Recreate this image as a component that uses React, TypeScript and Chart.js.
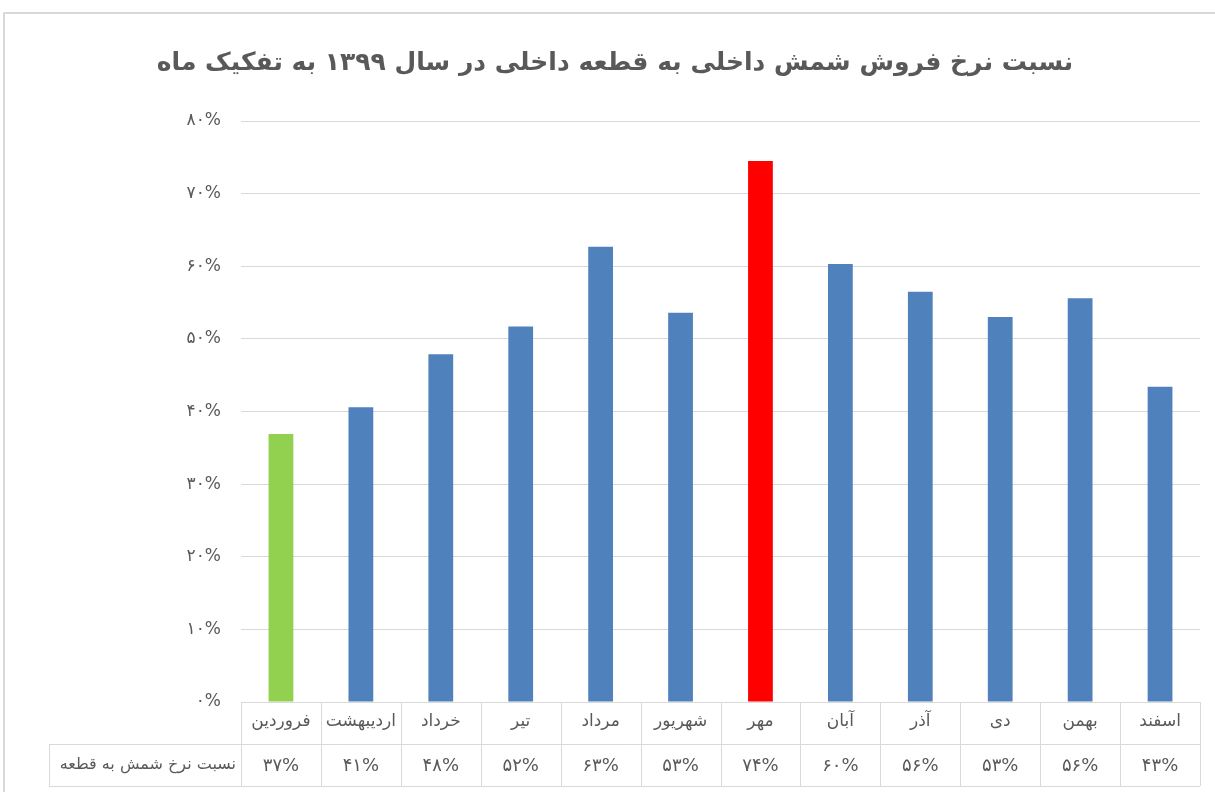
import React, { useEffect, useRef } from "react";
import { Chart, registerables } from "chart.js";

Chart.register(...registerables);

const titleText = "نسبت نرخ فروش شمش داخلی به قطعه داخلی در سال ۱۳۹۹ به تفکیک ماه";
const seriesName = "نسبت نرخ شمش به قطعه";
const categories = ["فروردین", "اردیبهشت", "خرداد", "تیر", "مرداد", "شهریور", "مهر", "آبان", "آذر", "دی", "بهمن", "اسفند"];
const values = [36.9, 40.6, 47.9, 51.7, 62.7, 53.6, 74.5, 60.3, 56.5, 53.0, 55.6, 43.4];
const valueLabels = ["۳۷%", "۴۱%", "۴۸%", "۵۲%", "۶۳%", "۵۳%", "۷۴%", "۶۰%", "۵۶%", "۵۳%", "۵۶%", "۴۳%"];
const barColors = ["#92D050", "#4F81BD", "#4F81BD", "#4F81BD", "#4F81BD", "#4F81BD", "#FF0000", "#4F81BD", "#4F81BD", "#4F81BD", "#4F81BD", "#4F81BD"];
const yTickLabels = ["۰%", "۱۰%", "۲۰%", "۳۰%", "۴۰%", "۵۰%", "۶۰%", "۷۰%", "۸۰%"];

const FONT = "'DejaVu Sans', 'Noto Sans', sans-serif";
const TEXT = "#595959";
const LINE = "#d9d9d9";

const decorPlugin = {
  id: "decor",
  beforeDraw(chart: any) {
    const ctx = chart.ctx;
    ctx.save();
    ctx.fillStyle = "#ffffff";
    ctx.fillRect(0, 0, chart.width, chart.height);
    ctx.strokeStyle = LINE;
    ctx.lineWidth = 2;
    ctx.strokeRect(4, 13, chart.width + 10, chart.height + 10);
    ctx.restore();
  },
  afterDraw(chart: any) {
    const ctx = chart.ctx;
    const area = chart.chartArea;
    const xs = chart.scales.x;
    ctx.save();
    // title
    ctx.fillStyle = TEXT;
    ctx.font = `bold 25px ${FONT}`;
    ctx.textAlign = "center";
    ctx.textBaseline = "middle";
    ctx.fillText(titleText, 615, 63);

    // table
    const n = categories.length;
    const colW = (area.right - area.left) / n;
    const y0 = area.bottom;
    const y1 = y0 + 42;
    const y2 = y1 + 42;
    const headLeft = 49;
    ctx.strokeStyle = LINE;
    ctx.lineWidth = 1;
    ctx.beginPath();
    ctx.moveTo(area.left, y0 + 0.5);
    ctx.lineTo(area.right, y0 + 0.5);
    ctx.moveTo(headLeft, y1 + 0.5);
    ctx.lineTo(area.right, y1 + 0.5);
    ctx.moveTo(headLeft, y2 + 0.5);
    ctx.lineTo(area.right, y2 + 0.5);
    ctx.moveTo(headLeft + 0.5, y1);
    ctx.lineTo(headLeft + 0.5, y2);
    for (let i = 0; i <= n; i++) {
      const x = Math.round(area.left + i * colW) + 0.5;
      ctx.moveTo(x, y0);
      ctx.lineTo(x, y2);
    }
    ctx.stroke();

    ctx.fillStyle = TEXT;
    ctx.textBaseline = "middle";
    ctx.textAlign = "center";
    for (let i = 0; i < n; i++) {
      const cx = xs.getPixelForValue(i);
      ctx.font = `17px ${FONT}`;
      ctx.fillText(categories[i], cx, (y0 + y1) / 2 - 1);
      ctx.font = `18px ${FONT}`;
      ctx.fillText(valueLabels[i], cx, (y1 + y2) / 2 + 1);
    }
    ctx.textAlign = "right";
    ctx.font = `16px ${FONT}`;
    ctx.fillText(seriesName, area.left - 5, (y1 + y2) / 2);
    ctx.restore();
  },
};

export default function App() {
  const ref = useRef<HTMLCanvasElement>(null);
  useEffect(() => {
    const chart = new Chart(ref.current as HTMLCanvasElement, {
      type: "bar",
      data: {
        labels: categories,
        datasets: [
          {
            label: seriesName,
            data: values,
            backgroundColor: barColors,
            borderWidth: 0,
            categoryPercentage: 0.31,
            barPercentage: 1,
          },
        ],
      },
      options: {
        animation: false,
        responsive: false,
        devicePixelRatio: 1,
        layout: { padding: { left: 0, right: 15, top: 121, bottom: 90 } },
        plugins: {
          legend: { display: false },
          title: { display: false },
          tooltip: { enabled: false },
        },
        scales: {
          x: { display: false },
          y: {
            min: 0,
            max: 80,
            afterFit(scale: any) {
              scale.width = 241;
            },
            ticks: {
              stepSize: 10,
              padding: 20,
              color: TEXT,
              font: { family: FONT, size: 17 },
              callback: (v: any) => yTickLabels[Math.round(Number(v) / 10)],
            },
            grid: { color: LINE, drawTicks: false, lineWidth: 1 },
            border: { display: false },
          },
        },
      },
      plugins: [decorPlugin],
    });
    return () => chart.destroy();
  }, []);
  return (
    <div style={{ position: "fixed", left: 0, top: 0, width: 1215, height: 792, background: "#fff" }}>
      <canvas ref={ref} width={1215} height={792} />
    </div>
  );
}
